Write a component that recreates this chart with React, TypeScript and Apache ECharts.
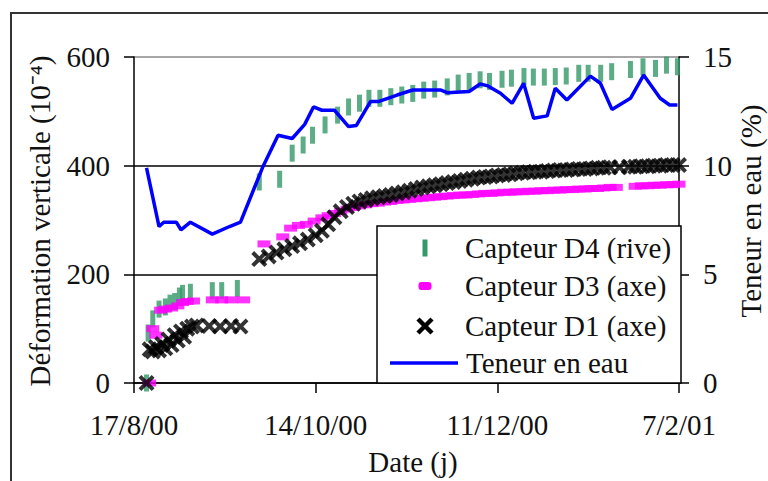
import React, { useEffect, useRef } from "react";
import * as echarts from "echarts";

// ---- Data (x = days since 17/8/00) ----
const dateTicks = [0, 58, 116, 174];
const dateLabels = ["17/8/00", "14/10/00", "11/12/00", "7/2/01"];

const d4Days = [4, 4.5, 6, 8, 10, 11.5, 13, 14.5, 15.5, 18, 25, 28, 33, 40, 46.5, 50.5, 54, 57, 61, 65, 68.5, 72, 75, 78.5, 82, 85.5, 89, 92.5, 96, 100, 103.5, 107, 110.5, 113.5, 117.5, 120.5, 124.5, 127.5, 131, 134.5, 138, 142, 145, 149, 152.5, 158.5, 162.5, 166.5, 170, 173.5];
const d4Values = [0, 92, 118, 136, 140, 147, 150, 160, 165, 167, 170, 170, 174, 370, 375, 423, 438, 456, 475, 493, 508, 515, 524, 524, 527, 530, 533, 539, 541, 545, 552, 555, 558, 555, 559, 561, 564, 563, 563, 564, 565, 570, 570, 570, 573, 577, 582, 579, 585, 582];

const d3Days = [5, 6, 7, 8.5, 10, 12, 14, 15.5, 17, 19, 25, 28, 31, 35, 41.5, 47.5, 50, 52.5, 55, 57.5, 60, 62, 64, 66, 68, 70, 72, 74, 76, 78, 80, 82, 84, 86, 88, 90, 92, 94, 96, 98, 100, 102, 104, 106, 108, 110, 112, 114, 116, 118, 120, 122, 124, 126, 128, 130, 132, 134, 136, 138, 140, 142, 144, 146, 148, 150, 152, 154, 160, 162, 164, 166, 168, 170, 172, 174];
const d3Values = [0, 100, 88, 134, 136, 138, 142, 148, 150, 151, 153, 153, 153, 153, 256, 269, 285, 290, 292, 298, 304, 308, 312, 316, 320, 323, 326, 328, 330, 331, 333, 334, 336, 337, 338, 339, 340, 341, 342, 343, 344, 345, 346, 346, 347, 348, 349, 349, 350, 351, 351, 352, 352, 353, 353, 354, 354, 355, 355, 356, 356, 357, 357, 358, 358, 359, 360, 360, 362, 363, 363, 364, 364, 365, 365, 366];

const d1Days = [4, 5, 6, 7, 8, 9, 10, 11, 12, 13, 14, 15, 16, 17, 18.5, 20, 24, 27.5, 31, 34, 40, 43, 45.5, 48, 50.5, 53, 55.5, 58, 60, 62, 64, 66, 68, 70, 72, 74, 76, 78, 80, 82, 84, 86, 88, 90, 92, 94, 96, 98, 100, 102, 104, 106, 108, 110, 112, 114, 116, 118, 120, 122, 124, 126, 128, 130, 132, 134, 136, 138, 140, 142, 144, 146, 148, 150, 152, 155, 158, 160, 162, 164, 166, 168, 170, 172, 174];
const d1Values = [0, 62, 58, 66, 60, 72, 64, 80, 70, 88, 78, 95, 85, 100, 104, 106, 105, 104, 105, 104, 228, 233, 240, 246, 252, 257, 264, 272, 280, 292, 305, 316, 324, 330, 334, 337, 340, 342, 344, 346, 349, 351, 354, 357, 360, 362, 364, 366, 368, 370, 372, 374, 376, 378, 379, 380, 382, 383, 384, 386, 387, 388, 389, 389, 390, 391, 392, 392, 393, 394, 394, 395, 396, 396, 397, 397, 398, 398, 399, 399, 400, 400, 401, 401, 401];

const waterDays = [4, 8, 9.5, 13.5, 15, 18, 25, 30.5, 34, 41, 46, 50.5, 54.5, 57.3, 60, 64, 68.5, 71, 75.5, 78, 84, 89, 98, 100, 107, 110.5, 113, 117, 120.7, 124.4, 127.6, 131.9, 134.5, 138.2, 145.7, 148.9, 152.6, 158.5, 162.7, 168, 171, 173.5];
const waterValues = [9.9, 7.2, 7.4, 7.4, 7.05, 7.4, 6.85, 7.2, 7.4, 9.9, 11.4, 11.25, 11.9, 12.7, 12.55, 12.55, 11.8, 11.85, 12.95, 12.95, 13.25, 13.48, 13.48, 13.36, 13.41, 13.76, 13.67, 13.33, 12.87, 13.79, 12.18, 12.29, 13.56, 13.02, 14.12, 13.79, 12.59, 13.1, 14.17, 13.1, 12.79, 12.79];

const seriesNames = ["Capteur D4 (rive)", "Capteur D3 (axe)", "Capteur D1 (axe)", "Teneur en eau"];
const leftTitle = "Déformation verticale (10⁻⁴)";
const rightTitle = "Teneur en eau (%)";
const xTitle = "Date (j)";

const zip = (xs: number[], ys: number[]) => xs.map((x, i) => [x, ys[i]]);

const FONT = '"Liberation Serif", "Times New Roman", serif';
const TXT = "#111";
const FS = 29;
const X_PATH = "path://M0,3L3,0L8.5,5.5L14,0L17,3L11.5,8.5L17,14L14,17L8.5,11.5L3,17L0,14L5.5,8.5Z";

export default function App() {
  const ref = useRef<HTMLDivElement>(null);
  useEffect(() => {
    if (!ref.current) return;
    const chart = echarts.init(ref.current, undefined, { renderer: "svg" });
    const axisText = { fontSize: FS, fontFamily: FONT, color: TXT };
    const legendX = 377, legendY = 226, legendW = 304, legendH = 157;
    const rowY = [248, 286, 326, 363];
    const textX = 465;
    const iconX = 425;
    chart.setOption({
      animation: false,
      backgroundColor: "#fff",
      grid: { left: 134, top: 57, width: 545, height: 326, containLabel: false },
      xAxis: {
        type: "value",
        min: 0,
        max: 174,
        interval: 58,
        axisLine: { lineStyle: { color: "#000", width: 1.5 } },
        axisTick: { length: 10, lineStyle: { color: "#000", width: 1.5 } },
        axisLabel: {
          ...axisText,
          margin: 27,
          showMinLabel: true,
          showMaxLabel: true,
          formatter: (v: number) => {
            const i = dateTicks.indexOf(v);
            return i >= 0 ? dateLabels[i] : "";
          },
        },
        splitLine: { show: false },
      },
      yAxis: [
        {
          type: "value",
          min: 0,
          max: 600,
          interval: 200,
          position: "left",
          axisLine: { show: true, lineStyle: { color: "#000", width: 1.5 } },
          axisTick: { show: true, length: 10, lineStyle: { color: "#000", width: 1.5 } },
          axisLabel: { ...axisText, margin: 24 },
          splitLine: { show: true, lineStyle: { color: ["#000", "#000", "#000", "#888"], width: 1.5 } },
        },
        {
          type: "value",
          min: 0,
          max: 15,
          interval: 5,
          position: "right",
          axisLine: { show: true, lineStyle: { color: "#000", width: 1.5 } },
          axisTick: { show: true, length: 10, lineStyle: { color: "#000", width: 1.5 } },
          axisLabel: { ...axisText, margin: 24 },
          splitLine: { show: false },
        },
      ],
      series: [
        {
          name: seriesNames[0],
          type: "scatter",
          data: zip(d4Days, d4Values),
          symbol: "rect",
          symbolSize: [5, 17],
          itemStyle: { color: "#339966" },
          clip: false,
        },
        {
          name: seriesNames[1],
          type: "scatter",
          data: zip(d3Days, d3Values),
          symbol: "rect",
          symbolSize: [13, 7],
          itemStyle: { color: "#FF00FF" },
          clip: false,
        },
        {
          name: seriesNames[2],
          type: "scatter",
          data: zip(d1Days, d1Values),
          symbol: X_PATH,
          symbolSize: 16,
          itemStyle: { color: "#000" },
          clip: false,
        },
        {
          name: seriesNames[3],
          type: "line",
          yAxisIndex: 1,
          data: zip(waterDays, waterValues),
          showSymbol: false,
          lineStyle: { color: "#0000FF", width: 3.5 },
          itemStyle: { color: "#0000FF" },
        },
      ],
      graphic: [
        {
          type: "rect",
          z: 0,
          silent: true,
          shape: { x: 11, y: 13, width: 800, height: 500 },
          style: { fill: "none", stroke: "#333", lineWidth: 2 },
        },
        {
          type: "rect",
          z: 100,
          silent: true,
          shape: { x: legendX, y: legendY, width: legendW, height: legendH },
          style: { fill: "#fff", stroke: "#000", lineWidth: 1.5 },
        },
        {
          type: "rect",
          z: 101,
          shape: { x: iconX - 2.5, y: rowY[0] - 8.5, width: 5, height: 17 },
          style: { fill: "#339966" },
        },
        {
          type: "rect",
          z: 101,
          shape: { x: iconX - 6.5, y: rowY[1] - 4, width: 13, height: 8, r: 3 },
          style: { fill: "#FF00FF" },
        },
        {
          type: "line",
          z: 101,
          shape: { x1: iconX - 7, y1: rowY[2] - 7, x2: iconX + 7, y2: rowY[2] + 7 },
          style: { stroke: "#000", lineWidth: 4.5 },
        },
        {
          type: "line",
          z: 101,
          shape: { x1: iconX + 7, y1: rowY[2] - 7, x2: iconX - 7, y2: rowY[2] + 7 },
          style: { stroke: "#000", lineWidth: 4.5 },
        },
        {
          type: "line",
          z: 101,
          shape: { x1: 390, y1: rowY[3], x2: 458, y2: rowY[3] },
          style: { stroke: "#0000FF", lineWidth: 3.5 },
        },
        ...seriesNames.map((n, i) => ({
          type: "text",
          z: 101,
          x: i === 3 ? 466 : textX,
          y: rowY[i],
          style: { text: n, fontSize: FS, fontFamily: FONT, fill: TXT, align: "left", verticalAlign: "middle" },
        })),
        {
          type: "text",
          z: 101,
          x: 40,
          y: 221,
          rotation: Math.PI / 2,
          style: { text: leftTitle, fontSize: FS, fontFamily: FONT, fill: TXT, align: "center", verticalAlign: "middle" },
        },
        {
          type: "text",
          z: 101,
          x: 751,
          y: 211,
          rotation: Math.PI / 2,
          style: { text: rightTitle, fontSize: FS, fontFamily: FONT, fill: TXT, align: "center", verticalAlign: "middle" },
        },
        {
          type: "text",
          z: 101,
          x: 413,
          y: 462,
          style: { text: xTitle, fontSize: FS, fontFamily: FONT, fill: TXT, align: "center", verticalAlign: "middle" },
        },
      ],
    });
    return () => chart.dispose();
  }, []);
  return (
    <div
      ref={ref}
      style={{ position: "fixed", left: 0, top: 0, width: 768, height: 481, background: "#fff" }}
    />
  );
}
